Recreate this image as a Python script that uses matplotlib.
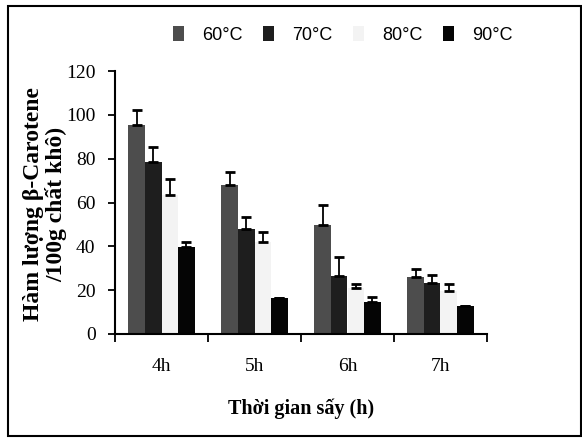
import numpy as np
import matplotlib
matplotlib.use("Agg")
import matplotlib.pyplot as plt
from matplotlib.patches import Rectangle

# data (µg / 100 g dry matter)
cats = ['4h', '5h', '6h', '7h']
labels = ['60°C', '70°C', '80°C', '90°C']
t60 = [95.4, 68.0, 49.7, 26.2]
e60 = [6.8, 5.8, 9.2, 3.3]
t70 = [78.6, 47.8, 26.5, 23.4]
e70 = [6.6, 5.4, 8.5, 3.5]
t80 = [63.4, 41.8, 20.8, 19.8]
e80 = [7.2, 4.9, 2.0, 2.9]
t90 = [39.5, 16.6, 14.7, 12.8]
e90 = [2.5, 0.0, 2.3, 0.0]

colors = ['#4d4d4d', '#1e1e1e', '#f3f3f3', '#050505']
serif = ['Liberation Serif', 'DejaVu Serif']

fig = plt.figure(figsize=(5.82, 4.38), dpi=100)
ax = fig.add_axes([115/582, 1-334/438, 372/582, 263/438])

x = np.arange(len(cats))
w = 0.178
series = [(t60, e60), (t70, e70), (t80, e80), (t90, e90)]
handles = []
for i, (vals, errs) in enumerate(series):
    pos = x + (i - 1.5) * w
    b = ax.bar(pos, vals, w, color=colors[i], label=labels[i], zorder=2)
    handles.append(b)
    ax.errorbar(pos, vals, yerr=[np.zeros(len(errs)), errs], fmt='none',
                ecolor='black', elinewidth=1.3, capsize=3.5, capthick=2, zorder=3)

ax.set_xlim(-0.5, 3.5)
ax.set_ylim(0, 120)
ax.set_yticks(np.arange(0, 121, 20))
ax.set_xticks(np.arange(-0.5, 3.6, 1))
ax.set_xticklabels([])
ax.set_xticks(x, minor=True)
ax.set_xticklabels(cats, minor=True)
ax.tick_params(axis='x', which='major', direction='out', length=6, width=1.3)
ax.tick_params(axis='x', which='minor', length=0, pad=17)
ax.tick_params(axis='y', direction='out', length=5, width=1.3, pad=9)
for lab in ax.get_yticklabels() + ax.get_xticklabels(minor=True):
    lab.set_family(serif)
    lab.set_fontsize(14)

ax.spines['top'].set_visible(False)
ax.spines['right'].set_visible(False)
ax.spines['left'].set_linewidth(1.5)
ax.spines['bottom'].set_linewidth(1.5)

ax.set_xlabel('Thời gian sấy (h)', family=serif, fontsize=14.5,
              fontweight='bold', labelpad=17)
fig.text(45/582, 1-204/438, 'Hàm lượng β-Carotene\n/100g chất khô)',
         rotation=90, ha='center', va='center', family=serif,
         fontsize=17, fontweight='bold', linespacing=1.05)

fig.legend(handles=handles, labels=labels, loc='center',
           bbox_to_anchor=(343/582, 1-35/438), ncol=4, frameon=False,
           handlelength=0.6, handleheight=0.9, handletextpad=1.0,
           columnspacing=1.15,
           prop={'family': ['Liberation Sans', 'DejaVu Sans'], 'size': 13})

# outer frame around the whole picture
fig.patches.append(Rectangle((8/582, 2/438), 573/582, 430/438,
                             transform=fig.transFigure, fill=False,
                             edgecolor='black', linewidth=1.5))

fig.savefig('out.png', dpi=100)
